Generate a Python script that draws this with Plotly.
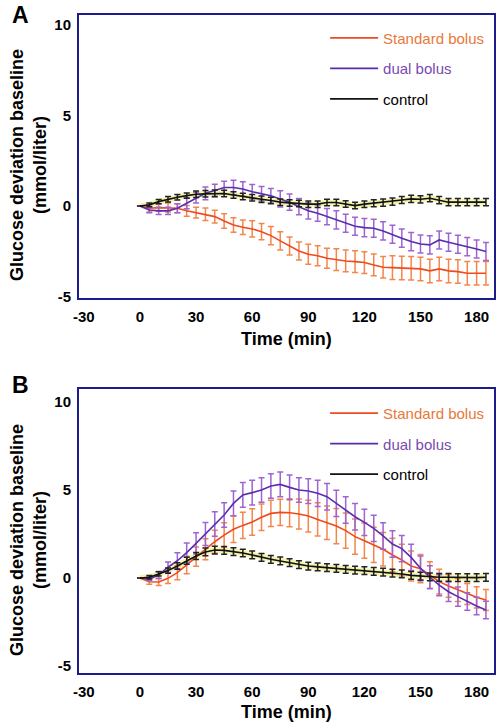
import plotly.graph_objects as go

# ---------------- data ----------------
time_min = [0, 5, 10, 15, 20, 25, 30, 35, 40, 45, 50, 55, 60, 65, 70, 75, 80, 85, 90,
            95, 100, 105, 110, 115, 120, 125, 130, 135, 140, 145, 150, 155, 160, 165, 170, 175, 180, 185]

# Panel A
a_standard = [0, -0.13, -0.09, -0.09, -0.13, -0.27, -0.37, -0.46, -0.59, -0.83, -1.05, -1.18, -1.27, -1.42, -1.64, -1.93, -2.21, -2.49, -2.67,
              -2.75, -2.89, -2.97, -3.04, -3.08, -3.13, -3.26, -3.39, -3.41, -3.43, -3.44, -3.48, -3.59, -3.48, -3.59, -3.63, -3.72, -3.72, -3.72]
a_standard_err = [0, 0.2, 0.2, 0.25, 0.25, 0.3, 0.3, 0.35, 0.35, 0.4, 0.4, 0.4, 0.45, 0.45, 0.5, 0.5, 0.5, 0.5, 0.55,
                  0.55, 0.55, 0.6, 0.6, 0.6, 0.6, 0.6, 0.6, 0.65, 0.65, 0.65, 0.65, 0.65, 0.65, 0.65, 0.65, 0.65, 0.65, 0.65]
a_dual = [0, -0.22, -0.27, -0.27, -0.13, 0.15, 0.46, 0.70, 0.85, 1.02, 1.02, 0.94, 0.79, 0.67, 0.56, 0.39, 0.21, -0.04, -0.27,
          -0.40, -0.59, -0.77, -0.96, -1.12, -1.20, -1.23, -1.38, -1.56, -1.78, -1.97, -2.10, -2.15, -1.88, -2.01, -2.12, -2.25, -2.38, -2.52]
a_dual_err = [0, 0.15, 0.2, 0.2, 0.25, 0.3, 0.3, 0.35, 0.35, 0.35, 0.4, 0.4, 0.4, 0.4, 0.4, 0.45, 0.45, 0.45, 0.45,
              0.45, 0.45, 0.5, 0.5, 0.5, 0.5, 0.5, 0.5, 0.5, 0.5, 0.5, 0.5, 0.5, 0.5, 0.5, 0.5, 0.5, 0.5, 0.5]
a_control = [0, 0.06, 0.24, 0.37, 0.48, 0.57, 0.65, 0.67, 0.70, 0.69, 0.61, 0.52, 0.46, 0.37, 0.30, 0.21, 0.17, 0.13, 0.10,
             0.10, 0.19, 0.19, 0.11, 0.02, 0.10, 0.15, 0.19, 0.24, 0.33, 0.39, 0.37, 0.43, 0.32, 0.21, 0.21, 0.21, 0.21, 0.21]
a_control_err = [0, 0.1, 0.12, 0.15, 0.15, 0.15, 0.18, 0.18, 0.18, 0.18, 0.18, 0.18, 0.18, 0.18, 0.18, 0.18, 0.18, 0.18, 0.18,
                 0.18, 0.18, 0.18, 0.18, 0.18, 0.18, 0.2, 0.2, 0.2, 0.2, 0.2, 0.2, 0.2, 0.2, 0.2, 0.2, 0.2, 0.2, 0.2]

# Panel B
b_standard = [0, -0.21, -0.23, -0.02, 0.30, 0.74, 1.21, 1.63, 2.06, 2.44, 2.77, 2.99, 3.18, 3.45, 3.67, 3.73, 3.71, 3.64, 3.52,
              3.33, 3.14, 2.95, 2.69, 2.35, 2.12, 1.88, 1.63, 1.31, 1.02, 0.68, 0.53, 0.17, -0.21, -0.45, -0.68, -0.91, -1.10, -1.25]
b_standard_err = [0, 0.15, 0.2, 0.3, 0.4, 0.5, 0.55, 0.6, 0.65, 0.7, 0.75, 0.75, 0.75, 0.75, 0.75, 0.75, 0.8, 0.85, 0.9,
                  0.95, 0.95, 1.0, 1.0, 1.0, 1.0, 1.0, 0.95, 0.95, 0.9, 0.85, 0.8, 0.75, 0.7, 0.65, 0.65, 0.6, 0.6, 0.6]
b_dual = [0, -0.05, 0.17, 0.61, 0.98, 1.44, 1.97, 2.50, 3.07, 3.58, 4.24, 4.72, 4.85, 5.00, 5.23, 5.32, 5.15, 5.00, 4.94,
          4.81, 4.62, 4.24, 3.86, 3.48, 3.16, 2.82, 2.39, 1.93, 1.67, 1.17, 0.55, 0.04, -0.41, -0.78, -1.06, -1.34, -1.59, -1.82]
b_dual_err = [0, 0.1, 0.2, 0.3, 0.45, 0.55, 0.6, 0.65, 0.7, 0.7, 0.7, 0.7, 0.7, 0.7, 0.7, 0.7, 0.7, 0.7, 0.7,
              0.75, 0.75, 0.75, 0.75, 0.75, 0.75, 0.75, 0.75, 0.75, 0.75, 0.75, 0.7, 0.65, 0.6, 0.55, 0.55, 0.5, 0.5, 0.5]
b_control = [0, 0.04, 0.23, 0.42, 0.68, 0.98, 1.25, 1.48, 1.59, 1.57, 1.50, 1.42, 1.31, 1.17, 1.06, 0.97, 0.87, 0.76, 0.68,
             0.63, 0.59, 0.55, 0.49, 0.45, 0.42, 0.38, 0.34, 0.28, 0.23, 0.15, 0.10, 0.06, 0.04, 0.04, 0.02, 0.02, 0.02, 0.04]
b_control_err = [0, 0.1, 0.12, 0.15, 0.18, 0.2, 0.2, 0.22, 0.22, 0.22, 0.22, 0.22, 0.22, 0.22, 0.22, 0.22, 0.22, 0.22, 0.22,
                 0.22, 0.22, 0.22, 0.22, 0.22, 0.22, 0.22, 0.22, 0.22, 0.22, 0.22, 0.22, 0.22, 0.22, 0.22, 0.22, 0.22, 0.22, 0.22]

series_names = ["Standard bolus", "dual bolus", "control"]
x_ticks = [-30, 0, 30, 60, 90, 120, 150, 180]
x_tick_labels = ["-30", "0", "30", "60", "90", "120", "150", "180"]
y_ticks = [-5, 0, 5, 10]
y_tick_labels = ["-5", "0", "5", "10"]

# ---------------- styling ----------------
line_colors = ["#EE4A1E", "#5A2DB0", "#111111"]
err_colors = ["#F4864C", "#9E64D2", "#222222"]
legend_text_colors = ["#E8783A", "#7A4AB0", "#000000"]
frame_color = "#1C1C8C"
FONT = "Arial, Liberation Sans, Helvetica, sans-serif"

fig = go.Figure()

panels = [
    ("x", "y", "legend", [(a_standard, a_standard_err), (a_dual, a_dual_err), (a_control, a_control_err)]),
    ("x2", "y2", "legend2", [(b_standard, b_standard_err), (b_dual, b_dual_err), (b_control, b_control_err)]),
]
for xa, ya, lg, data in panels:
    # faint yellow halo around the control series (as in the scanned figure)
    ctrl_vals, ctrl_errs = data[2]
    fig.add_trace(go.Scatter(
        x=time_min, y=ctrl_vals, xaxis=xa, yaxis=ya, mode="lines",
        line=dict(color="rgba(235,235,110,0.55)", width=6), showlegend=False, hoverinfo="skip",
    ))
    for i, (vals, errs) in enumerate(data):
        fig.add_trace(go.Scatter(
            x=time_min, y=vals, xaxis=xa, yaxis=ya, mode="lines",
            name=f"<span style='color:{legend_text_colors[i]}'>{series_names[i]}</span>",
            legend=lg, legendgroup=f"{lg}_{i}",
            line=dict(color=line_colors[i], width=1.6),
            error_y=dict(type="data", array=errs, visible=True, color=err_colors[i],
                         thickness=1.5, width=3),
            hoverinfo="skip",
        ))

axis_common = dict(showgrid=False, zeroline=False, ticks="", showline=True, mirror=True,
                   linecolor=frame_color, linewidth=2, automargin=False,
                   tickfont=dict(family=FONT, size=15, color="#000", weight="bold"))

xr = [-32.6, 189.3]
fig.update_layout(
    width=500, height=724,
    margin=dict(l=79, r=6, t=15, b=51),
    paper_bgcolor="white", plot_bgcolor="white",
    xaxis=dict(domain=[0, 1], anchor="y", range=xr, tickvals=x_ticks, ticktext=x_tick_labels,
               ticklabelstandoff=4, **axis_common),
    yaxis=dict(domain=[0.5699, 1], anchor="x", range=[-5.09, 10.56], tickvals=y_ticks, ticktext=y_tick_labels,
               ticklabelstandoff=3, **axis_common),
    xaxis2=dict(domain=[0, 1], anchor="y2", range=xr, tickvals=x_ticks, ticktext=x_tick_labels,
                ticklabelstandoff=4, **axis_common),
    yaxis2=dict(domain=[0, 0.4316], anchor="x2", range=[-5.40, 10.74], tickvals=y_ticks, ticktext=y_tick_labels,
                ticklabelstandoff=3, **axis_common),
    showlegend=True,
    legend=dict(x=0.593, y=0.99, xanchor="left", yanchor="top", bgcolor="rgba(0,0,0,0)",
                font=dict(family=FONT, size=15), itemwidth=48, tracegroupgap=8, traceorder="grouped"),
    legend2=dict(x=0.593, y=0.4196, xanchor="left", yanchor="top", bgcolor="rgba(0,0,0,0)",
                 font=dict(family=FONT, size=15), itemwidth=48, tracegroupgap=8, traceorder="grouped"),
)

ann_font_title = dict(family=FONT, size=18, color="#000", weight="bold")
annotations = [
    dict(text="A", x=-0.142, y=1.0, font=dict(family=FONT, size=23, color="#000", weight="bold")),
    dict(text="B", x=-0.142, y=0.4377, font=dict(family=FONT, size=23, color="#000", weight="bold")),
    dict(text="Glucose deviation baseline<br>(mmol/liter)", x=-0.1229, y=0.772, textangle=-90, font=ann_font_title),
    dict(text="Glucose deviation baseline<br>(mmol/liter)", x=-0.1229, y=0.202, textangle=-90, font=ann_font_title),
    dict(text="Time (min)", x=0.4988, y=0.5076, font=ann_font_title),
    dict(text="Time (min)", x=0.4988, y=-0.0593, font=ann_font_title),
]
for a in annotations:
    a.update(xref="paper", yref="paper", showarrow=False, xanchor="center", yanchor="middle")
fig.update_layout(annotations=annotations)

fig.write_html("out.html", config={"displayModeBar": False},
               post_script="document.body.style.margin='0';")
